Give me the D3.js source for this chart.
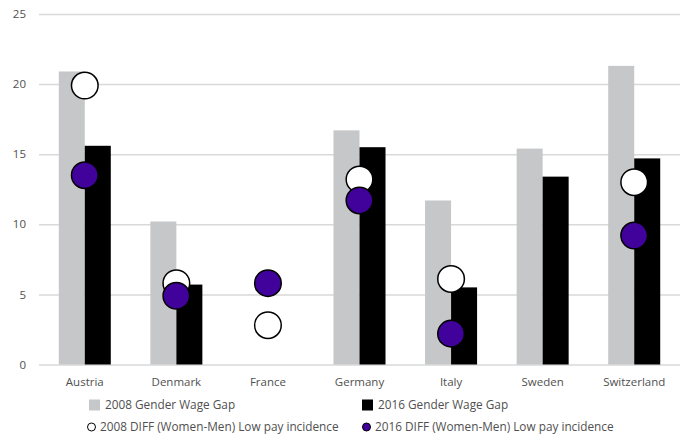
<!DOCTYPE html>
<html>
<head>
<meta charset="utf-8">
<script src="https://cdn.jsdelivr.net/npm/d3@7"></script>
<style>
  html, body { margin: 0; padding: 0; background: #fff; }
  svg text { font-family: "Open Sans", sans-serif; fill: #505050; }
</style>
</head>
<body>
<div id="chart"></div>
<script>
// chart data
const countries = ['Austria', 'Denmark', 'France', 'Germany', 'Italy', 'Sweden', 'Switzerland'];
const gap2008 = [20.9, 10.2, null, 16.7, 11.7, 15.4, 21.3];
const gap2016 = [15.6, 5.7, null, 15.5, 5.5, 13.4, 14.7];
const lowPay2008 = [19.9, 5.8, 2.8, 13.2, 6.1, null, 13.0];
const lowPay2016 = [13.5, 4.9, 5.8, 11.7, 2.2, null, 9.2];
const yTicks = [0, 5, 10, 15, 20, 25];

const width = 683, height = 435;
const margin = { top: 14, right: 3, bottom: 70, left: 39 };
const axisFont = '11.5px';
const legendFont = '11.8px';

const svg = d3.select('#chart').append('svg')
  .attr('width', width)
  .attr('height', height);

const x = d3.scaleBand()
  .domain(countries)
  .range([margin.left, width - margin.right])
  .paddingInner(0.432)
  .paddingOuter(0.216);

const xSub = d3.scaleBand()
  .domain(['2008', '2016'])
  .range([0, x.bandwidth()]);

const y = d3.scaleLinear()
  .domain([0, 25])
  .range([height - margin.bottom - 0.5, margin.top]);

// gridlines + y tick labels
const yAxis = d3.axisLeft(y)
  .tickValues(yTicks)
  .tickSize(-(width - margin.left - margin.right))
  .tickPadding(13)
  .tickFormat(d3.format('d'));

const gy = svg.append('g')
  .attr('transform', `translate(${margin.left},0)`)
  .call(yAxis);
gy.select('.domain').remove();
gy.selectAll('.tick line').attr('stroke', '#d9d9d9').attr('stroke-width', 1.5);
gy.selectAll('.tick text').style('font-size', axisFont).style('font-family', '"Open Sans", sans-serif');

// bars
const rows = countries.map((c, i) => ({ c, g08: gap2008[i], g16: gap2016[i], l08: lowPay2008[i], l16: lowPay2016[i] }));

svg.append('g').selectAll('rect')
  .data(rows.filter(d => d.g08 != null))
  .join('rect')
  .attr('x', d => x(d.c) + xSub('2008'))
  .attr('y', d => y(d.g08))
  .attr('width', xSub.bandwidth())
  .attr('height', d => y(0) - y(d.g08))
  .attr('fill', '#c6c7c9');

svg.append('g').selectAll('rect')
  .data(rows.filter(d => d.g16 != null))
  .join('rect')
  .attr('x', d => x(d.c) + xSub('2016'))
  .attr('y', d => y(d.g16))
  .attr('width', xSub.bandwidth())
  .attr('height', d => y(0) - y(d.g16))
  .attr('fill', '#000');

// circles
const cx = d => x(d.c) + x.bandwidth() / 2;

svg.append('g').selectAll('circle')
  .data(rows.filter(d => d.l08 != null))
  .join('circle')
  .attr('cx', cx)
  .attr('cy', d => y(d.l08))
  .attr('r', 13.3)
  .attr('fill', '#fff')
  .attr('stroke', '#000')
  .attr('stroke-width', 1.5);

svg.append('g').selectAll('circle')
  .data(rows.filter(d => d.l16 != null))
  .join('circle')
  .attr('cx', cx)
  .attr('cy', d => y(d.l16))
  .attr('r', 13.3)
  .attr('fill', '#41029b')
  .attr('stroke', '#000')
  .attr('stroke-width', 1.5);

// category labels
svg.append('g').selectAll('text')
  .data(countries)
  .join('text')
  .attr('x', d => x(d) + x.bandwidth() / 2)
  .attr('y', 386)
  .attr('text-anchor', 'middle')
  .style('font-size', axisFont)
  .text(d => d);

// legend
const legendItems = [
  { label: '2008 Gender Wage Gap', type: 'rect', fill: '#c6c7c9', x: 89, y: 405 },
  { label: '2016 Gender Wage Gap', type: 'rect', fill: '#000', x: 362, y: 405 },
  { label: '2008 DIFF (Women-Men) Low pay incidence', type: 'circle', fill: '#fff', x: 87, y: 427 },
  { label: '2016 DIFF (Women-Men) Low pay incidence', type: 'circle', fill: '#41029b', x: 362, y: 427 }
];

const legend = svg.append('g');
legendItems.forEach(item => {
  const g = legend.append('g').attr('transform', `translate(${item.x},${item.y})`);
  if (item.type === 'rect') {
    g.append('rect').attr('x', 0).attr('y', -5.5).attr('width', 11).attr('height', 11).attr('fill', item.fill);
  } else {
    g.append('circle').attr('cx', 4.5).attr('cy', 0).attr('r', 4).attr('fill', item.fill)
      .attr('stroke', '#000').attr('stroke-width', 1);
  }
  g.append('text')
    .attr('x', item.type === 'rect' ? 16 : 13)
    .attr('y', 4)
    .style('font-size', legendFont)
    .text(item.label);
});
</script>
</body>
</html>
